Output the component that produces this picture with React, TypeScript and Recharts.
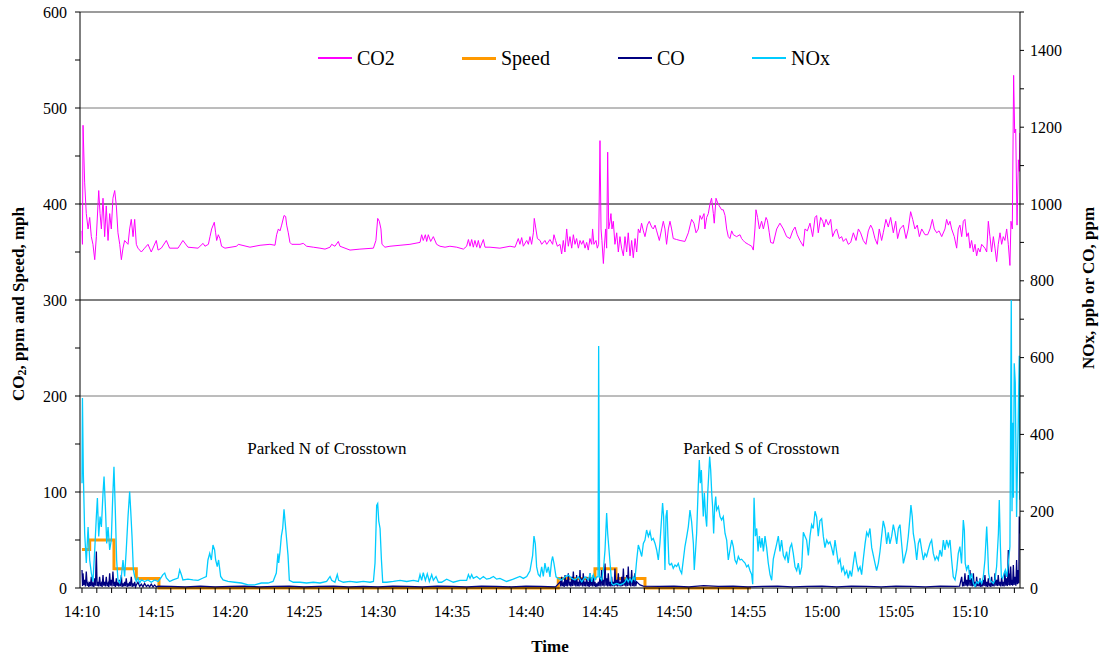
import {
  Label,
  Legend,
  Line,
  LineChart,
  ReferenceDot,
  ReferenceLine,
  XAxis,
  YAxis,
} from "recharts";

// [minutes after 14:10, value]
const CO2: [number, number][] = [
  [0, 372], [0.03, 358], [0.07, 482], [0.18, 422], [0.29, 390], [0.41, 374], [0.52, 386], [0.63, 366],
  [0.74, 358], [0.86, 342], [0.97, 366], [1.13, 414], [1.22, 390], [1.31, 374], [1.42, 406], [1.53, 366],
  [1.64, 398], [1.76, 362], [1.87, 390], [1.98, 374], [2.09, 406], [2.21, 414], [2.32, 398], [2.43, 370],
  [2.55, 358], [2.66, 342], [2.77, 354], [2.88, 362], [3.11, 358], [3.22, 374], [3.33, 384], [3.45, 366],
  [3.56, 384], [3.67, 358], [3.78, 354], [4.01, 350], [4.23, 354], [4.46, 358], [4.68, 350], [5.02, 362],
  [5.14, 352], [5.36, 354], [5.7, 362], [5.92, 354], [6.49, 354], [6.82, 362], [7.16, 355], [7.84, 354],
  [8.18, 359], [8.31, 356], [8.54, 358], [8.65, 366], [8.76, 374], [8.94, 381], [9.03, 370], [9.1, 362],
  [9.21, 368], [9.32, 364], [9.43, 356], [9.66, 354], [10.45, 356], [10.56, 358], [11.35, 355], [12.03, 357],
  [12.7, 358], [13.04, 357], [13.15, 368], [13.27, 374], [13.38, 372], [13.49, 378], [13.65, 388], [13.76, 387],
  [13.83, 378], [13.94, 370], [14.05, 360], [14.17, 358], [14.73, 358], [14.95, 359], [15.18, 356], [15.63, 355],
  [16.08, 354], [16.42, 353], [16.76, 355], [16.87, 358], [17.09, 356], [17.32, 361], [17.43, 356], [18.11, 352],
  [18.78, 353], [19.69, 354], [19.86, 362], [19.98, 385], [20.09, 382], [20.2, 374], [20.27, 358], [20.47, 355],
  [20.81, 356], [21.49, 357], [22.16, 358], [22.84, 360], [22.95, 368], [23.06, 362], [23.2, 368], [23.29, 361],
  [23.4, 368], [23.56, 361], [23.74, 366], [23.96, 358], [24.19, 356], [24.53, 355], [24.86, 356], [25.32, 355],
  [25.77, 353], [25.99, 356], [26.11, 363], [26.22, 356], [26.33, 363], [26.44, 355], [26.55, 362], [26.67, 355],
  [26.78, 362], [26.89, 354], [27.12, 363], [27.23, 355], [27.57, 355], [28.24, 354], [28.92, 356], [29.26, 355],
  [29.48, 364], [29.59, 358], [29.71, 365], [29.82, 356], [30.05, 362], [30.16, 358], [30.27, 366], [30.38, 358],
  [30.5, 370], [30.56, 385], [30.65, 376], [30.77, 364], [30.95, 362], [31.06, 358], [31.28, 362], [31.4, 358],
  [31.62, 363], [31.8, 358], [31.89, 368], [32.0, 362], [32.12, 356], [32.3, 358], [32.41, 348], [32.52, 362],
  [32.63, 350], [32.75, 374], [32.86, 356], [32.97, 366], [33.09, 354], [33.2, 368], [33.31, 358], [33.42, 364],
  [33.54, 354], [33.65, 362], [33.76, 358], [33.87, 362], [33.99, 354], [34.1, 360], [34.21, 352], [34.32, 364],
  [34.44, 358], [34.5, 374], [34.59, 358], [34.73, 362], [34.82, 354], [34.91, 358], [35.0, 466], [35.07, 374],
  [35.13, 362], [35.23, 338], [35.29, 354], [35.38, 374], [35.45, 354], [35.52, 454], [35.59, 374], [35.68, 382],
  [35.74, 390], [35.81, 374], [35.9, 382], [36.01, 358], [36.13, 370], [36.24, 350], [36.35, 366], [36.46, 354],
  [36.58, 346], [36.69, 366], [36.8, 350], [36.91, 370], [37.03, 346], [37.14, 362], [37.25, 344], [37.37, 364],
  [37.48, 350], [37.59, 374], [37.7, 370], [37.81, 380], [37.93, 372], [38.04, 366], [38.2, 378], [38.33, 382],
  [38.49, 376], [38.6, 374], [38.72, 378], [38.83, 372], [39.01, 362], [39.17, 374], [39.28, 382], [39.39, 374],
  [39.5, 358], [39.62, 374], [39.73, 382], [39.84, 374], [39.95, 364], [40.18, 363], [40.41, 362], [40.74, 361],
  [40.97, 370], [41.19, 384], [41.35, 380], [41.49, 370], [41.64, 374], [41.76, 388], [41.87, 384], [42.03, 390],
  [42.09, 374], [42.21, 386], [42.32, 390], [42.43, 400], [42.54, 406], [42.66, 390], [42.72, 380], [42.84, 406],
  [42.93, 402], [43.06, 398], [43.22, 394], [43.33, 394], [43.45, 388], [43.56, 374], [43.67, 366], [43.78, 364],
  [43.9, 372], [44.01, 368], [44.23, 366], [44.46, 368], [44.57, 364], [44.68, 362], [44.8, 360], [45.02, 358],
  [45.25, 356], [45.36, 352], [45.47, 374], [45.54, 394], [45.65, 386], [45.77, 374], [45.92, 382], [46.04, 374],
  [46.22, 386], [46.31, 383], [46.44, 370], [46.53, 360], [46.71, 359], [46.94, 374], [47.16, 380], [47.39, 374],
  [47.61, 366], [47.84, 364], [48.02, 372], [48.18, 376], [48.33, 368], [48.51, 362], [48.74, 356], [48.85, 374],
  [49.01, 372], [49.19, 380], [49.37, 366], [49.53, 386], [49.64, 388], [49.75, 370], [49.91, 386], [50.05, 382],
  [50.14, 376], [50.27, 384], [50.43, 378], [50.59, 384], [50.72, 366], [50.88, 372], [50.99, 374], [51.17, 364],
  [51.33, 366], [51.44, 361], [51.62, 364], [51.78, 358], [51.94, 360], [52.12, 370], [52.3, 362], [52.46, 374],
  [52.61, 370], [52.79, 362], [52.97, 358], [53.13, 372], [53.29, 378], [53.42, 374], [53.58, 364], [53.74, 358],
  [53.87, 374], [54.03, 362], [54.14, 370], [54.32, 384], [54.48, 376], [54.64, 386], [54.82, 370], [54.98, 382],
  [55.11, 364], [55.27, 374], [55.5, 378], [55.68, 364], [55.83, 374], [55.99, 392], [56.13, 384], [56.28, 374],
  [56.44, 378], [56.58, 366], [56.74, 374], [56.96, 368], [57.14, 368], [57.3, 374], [57.46, 384], [57.59, 374],
  [57.75, 370], [57.91, 372], [58.09, 366], [58.31, 374], [58.42, 384], [58.54, 378], [58.65, 382], [58.76, 374],
  [58.94, 366], [59.1, 354], [59.21, 374], [59.32, 378], [59.44, 366], [59.55, 382], [59.66, 384], [59.78, 366],
  [59.89, 370], [60.0, 354], [60.11, 362], [60.23, 350], [60.34, 358], [60.45, 346], [60.56, 354], [60.68, 350],
  [60.79, 358], [61.01, 354], [61.13, 350], [61.24, 382], [61.35, 366], [61.46, 350], [61.58, 366], [61.69, 354],
  [61.8, 340], [61.91, 358], [62.03, 370], [62.14, 358], [62.25, 366], [62.36, 362], [62.48, 374], [62.59, 358],
  [62.7, 336], [62.77, 382], [62.86, 374], [62.95, 534], [63.02, 474], [63.09, 478], [63.18, 378], [63.27, 446],
  [63.33, 434], [63.37, 474],
];

const SPEED: [number, number][] = [
  [0, 40], [0.52, 50], [2.16, 20], [3.67, 10], [5.2, 0], [32.18, 10], [34.66, 20], [36.08, 10], [38.04, 0], [45.2, 0],
];

const CO: [number, number][] = [
  [0, 47], [0.04, 5], [0.07, 38], [0.12, 8], [0.18, 21], [0.23, 4], [0.29, 43], [0.35, 6], [0.41, 12], [0.46, 3],
  [0.52, 16], [0.57, 5], [0.63, 29], [0.68, 4], [0.74, 12], [0.8, 3], [0.86, 25], [0.91, 6], [0.97, 95], [1.02, 5],
  [1.08, 16], [1.13, 4], [1.19, 29], [1.25, 5], [1.31, 12], [1.36, 3], [1.42, 34], [1.47, 6], [1.53, 16], [1.58, 4],
  [1.64, 29], [1.7, 5], [1.76, 12], [1.81, 3], [1.87, 38], [1.92, 6], [1.98, 21], [2.03, 4], [2.09, 43], [2.15, 5],
  [2.21, 16], [2.26, 3], [2.32, 25], [2.37, 6], [2.43, 12], [2.49, 4], [2.55, 21], [2.6, 5], [2.66, 34], [2.71, 3],
  [2.77, 12], [2.82, 4], [2.88, 16], [2.93, 5], [2.99, 25], [3.05, 3], [3.11, 12], [3.16, 4], [3.22, 16], [3.27, 5],
  [3.33, 29], [3.39, 3], [3.45, 12], [3.5, 4], [3.56, 16], [3.62, 3], [3.67, 8], [3.78, 15], [3.9, 4], [4.01, 10],
  [4.12, 3], [4.23, 12], [4.35, 4], [4.46, 8], [4.57, 3], [4.68, 10], [4.8, 3], [4.91, 8], [5.02, 3], [5.14, 5],
  [6, 4], [7, 3], [8, 5], [9, 3], [10, 4], [11, 5], [12, 3], [13, 4], [14, 5], [15, 3], [16, 4], [17, 5], [18, 3],
  [19, 4], [20, 3], [21, 5], [22, 4], [23, 3], [24, 5], [25, 4], [26, 3], [27, 5], [28, 4], [29, 3], [30, 5], [31, 4],
  [32, 3], [32.3, 16], [32.35, 4], [32.41, 29], [32.46, 5], [32.52, 12], [32.58, 3], [32.64, 34], [32.69, 5],
  [32.75, 21], [32.8, 4], [32.86, 38], [32.92, 6], [32.97, 16], [33.03, 4], [33.09, 29], [33.14, 5], [33.2, 43],
  [33.25, 6], [33.31, 21], [33.37, 4], [33.42, 34], [33.48, 5], [33.54, 16], [33.59, 4], [33.65, 47], [33.7, 6],
  [33.76, 25], [33.82, 4], [33.87, 38], [33.93, 5], [33.99, 16], [34.04, 4], [34.1, 29], [34.16, 5], [34.21, 16],
  [34.27, 3], [34.33, 38], [34.38, 5], [34.44, 21], [34.5, 4], [34.55, 34], [34.61, 5], [34.66, 16], [34.72, 3],
  [34.78, 12], [34.83, 4], [34.89, 16], [34.94, 5], [35.0, 29], [35.06, 4], [35.11, 47], [35.17, 6], [35.23, 21],
  [35.28, 4], [35.34, 64], [35.4, 6], [35.45, 25], [35.51, 4], [35.56, 38], [35.62, 5], [35.68, 16], [35.73, 4],
  [35.79, 29], [35.84, 5], [35.9, 16], [35.96, 4], [36.01, 51], [36.07, 6], [36.13, 21], [36.18, 4], [36.24, 38],
  [36.3, 5], [36.35, 16], [36.41, 4], [36.46, 29], [36.52, 5], [36.58, 51], [36.63, 6], [36.69, 21], [36.75, 4],
  [36.8, 34], [36.86, 5], [36.91, 56], [36.97, 6], [37.03, 25], [37.08, 4], [37.14, 47], [37.2, 5], [37.25, 21],
  [37.31, 4], [37.36, 38], [37.42, 5], [37.48, 16], [37.59, 12], [37.7, 8], [37.93, 5], [39, 4], [40, 5], [41, 3],
  [42, 6], [43, 4], [44, 5], [45, 3], [46, 4], [47, 5], [48, 3], [49, 4], [50, 5], [51, 3], [52, 5], [53, 4], [54, 3],
  [55, 5], [56, 4], [57, 3], [58, 5], [59, 4], [59.3, 5], [59.44, 29], [59.5, 4], [59.55, 16], [59.6, 5], [59.66, 38],
  [59.72, 6], [59.77, 21], [59.83, 4], [59.89, 34], [59.94, 6], [60.0, 47], [60.06, 5], [60.11, 25], [60.17, 4],
  [60.23, 38], [60.28, 5], [60.34, 16], [60.4, 3], [60.45, 29], [60.51, 5], [60.56, 16], [60.62, 4], [60.68, 25],
  [60.73, 3], [60.79, 12], [60.84, 4], [60.9, 21], [60.96, 5], [61.01, 34], [61.07, 4], [61.13, 16], [61.18, 3],
  [61.24, 25], [61.3, 4], [61.35, 12], [61.41, 3], [61.46, 29], [61.52, 5], [61.58, 16], [61.63, 4], [61.69, 38],
  [61.75, 6], [61.8, 21], [61.86, 5], [61.91, 34], [61.97, 6], [62.03, 16], [62.08, 4], [62.14, 29], [62.2, 5],
  [62.25, 16], [62.31, 4], [62.36, 43], [62.42, 6], [62.48, 25], [62.53, 5], [62.59, 99], [62.63, 8], [62.66, 38],
  [62.7, 6], [62.75, 56], [62.8, 8], [62.84, 21], [62.88, 6], [62.93, 60], [62.98, 8], [63.04, 29], [63.1, 6],
  [63.15, 73], [63.2, 10], [63.26, 47], [63.3, 12], [63.33, 186], [63.37, 142],
];

const NOX: [number, number][] = [
  [0, 273], [0.03, 495], [0.09, 300], [0.18, 143], [0.29, 65], [0.41, 159], [0.52, 73], [0.63, 39], [0.74, 17],
  [0.86, 99], [0.97, 186], [1.04, 234], [1.13, 134], [1.22, 186], [1.31, 159], [1.42, 247], [1.49, 290], [1.58, 212],
  [1.67, 116], [1.76, 159], [1.87, 99], [1.98, 125], [2.07, 229], [2.16, 316], [2.25, 203], [2.34, 73], [2.43, 21],
  [2.55, 13], [2.66, 30], [2.77, 73], [2.88, 30], [2.99, 99], [3.11, 186], [3.22, 251], [3.29, 203], [3.38, 134],
  [3.47, 47], [3.56, 30], [3.67, 17], [3.78, 26], [3.9, 13], [4.01, 21], [4.23, 17], [4.46, 21], [4.68, 15],
  [4.91, 21], [5.14, 17], [5.32, 26], [5.47, 35], [5.59, 39], [5.7, 26], [5.92, 17], [6.15, 21], [6.49, 26],
  [6.6, 47], [6.71, 35], [6.82, 21], [7.16, 23], [7.5, 21], [7.84, 20], [8.18, 26], [8.4, 30], [8.51, 73], [8.63, 90],
  [8.74, 73], [8.85, 112], [8.96, 99], [9.03, 73], [9.14, 56], [9.23, 73], [9.37, 30], [9.53, 21], [9.86, 17],
  [10.32, 15], [10.77, 13], [11.22, 8], [11.67, 8], [12.12, 13], [12.57, 13], [12.91, 17], [13.13, 39], [13.24, 90],
  [13.29, 65], [13.38, 95], [13.47, 135], [13.56, 155], [13.65, 205], [13.74, 165], [13.83, 125], [13.92, 85],
  [14.01, 20], [14.28, 15], [14.73, 15], [15.18, 13], [15.63, 15], [16.08, 13], [16.53, 17], [16.76, 30], [16.87, 20],
  [17.09, 15], [17.25, 35], [17.34, 20], [17.66, 15], [18.11, 17], [18.56, 15], [19.01, 17], [19.46, 15], [19.69, 17],
  [19.8, 65], [19.91, 215], [19.98, 220], [20.05, 175], [20.14, 155], [20.23, 75], [20.32, 15], [20.59, 15],
  [21.04, 17], [21.49, 20], [21.94, 17], [22.39, 20], [22.73, 17], [22.84, 35], [22.95, 20], [23.06, 40], [23.2, 20],
  [23.33, 37], [23.47, 17], [23.63, 35], [23.74, 20], [23.92, 30], [24.08, 15], [24.3, 15], [24.64, 23], [25.09, 15],
  [25.54, 20], [25.99, 20], [26.11, 35], [26.22, 25], [26.33, 35], [26.44, 25], [26.67, 30], [26.89, 23], [27.12, 30],
  [27.34, 23], [27.57, 25], [27.8, 30], [28.02, 23], [28.24, 25], [28.69, 17], [29.14, 23], [29.59, 30], [29.82, 25],
  [30.05, 30], [30.27, 45], [30.45, 85], [30.54, 135], [30.63, 115], [30.72, 55], [30.83, 35], [30.95, 30],
  [31.06, 55], [31.17, 30], [31.28, 65], [31.4, 40], [31.51, 55], [31.62, 29], [31.73, 70], [31.8, 82], [31.89, 64],
  [32.03, 29], [32.18, 25], [32.41, 21], [32.64, 29], [32.86, 34], [33.09, 25], [33.31, 21], [33.54, 29], [33.77, 16],
  [33.99, 29], [34.22, 21], [34.33, 38], [34.44, 16], [34.55, 34], [34.66, 21], [34.78, 29], [34.87, 29],
  [34.91, 630], [34.97, 29], [35.11, 21], [35.23, 47], [35.34, 99], [35.45, 195], [35.52, 142], [35.61, 99],
  [35.7, 56], [35.79, 12], [35.9, 8], [36.13, 12], [36.35, 8], [36.58, 12], [36.69, 16], [36.8, 25], [36.91, 16],
  [37.03, 25], [37.14, 16], [37.25, 29], [37.36, 21], [37.48, 73], [37.59, 112], [37.7, 99], [37.82, 82], [37.93, 116],
  [38.04, 125], [38.15, 151], [38.27, 134], [38.38, 147], [38.49, 125], [38.6, 129], [38.72, 116], [38.83, 99],
  [38.94, 73], [39.05, 116], [39.17, 186], [39.23, 221], [39.3, 186], [39.39, 47], [39.46, 186], [39.53, 203],
  [39.59, 134], [39.66, 64], [39.73, 60], [39.84, 64], [39.95, 51], [40.07, 60], [40.18, 56], [40.29, 64], [40.41, 47],
  [40.52, 38], [40.63, 73], [40.74, 108], [40.86, 134], [40.97, 160], [41.08, 203], [41.19, 173], [41.31, 116],
  [41.37, 47], [41.46, 99], [41.53, 142], [41.64, 264], [41.71, 333], [41.78, 273], [41.85, 307], [41.91, 247],
  [41.98, 186], [42.05, 247], [42.14, 186], [42.21, 160], [42.28, 247], [42.34, 290], [42.41, 342], [42.48, 307],
  [42.55, 247], [42.61, 212], [42.68, 142], [42.75, 212], [42.82, 238], [42.88, 203], [43.0, 212], [43.11, 186],
  [43.22, 177], [43.33, 186], [43.45, 142], [43.56, 125], [43.67, 73], [43.78, 99], [43.9, 125], [44.01, 108],
  [44.12, 73], [44.23, 64], [44.35, 82], [44.46, 73], [44.57, 75], [44.68, 70], [44.8, 65], [44.91, 55], [45.02, 60],
  [45.14, 45], [45.25, 35], [45.32, 10], [45.41, 235], [45.5, 135], [45.59, 155], [45.68, 95], [45.77, 135],
  [45.86, 105], [45.95, 130], [46.04, 95], [46.15, 135], [46.26, 105], [46.37, 65], [46.49, 35], [46.6, 20],
  [46.71, 75], [46.82, 95], [46.94, 115], [47.05, 135], [47.16, 95], [47.27, 125], [47.39, 85], [47.5, 75],
  [47.61, 95], [47.72, 65], [47.84, 105], [47.95, 115], [48.06, 90], [48.18, 55], [48.29, 45], [48.4, 65],
  [48.51, 35], [48.63, 55], [48.74, 145], [48.85, 135], [48.96, 125], [49.08, 85], [49.19, 135], [49.3, 165],
  [49.41, 155], [49.53, 200], [49.64, 185], [49.75, 135], [49.86, 175], [49.98, 180], [50.09, 135], [50.2, 105],
  [50.32, 125], [50.43, 115], [50.54, 120], [50.65, 105], [50.77, 85], [50.88, 125], [50.99, 95], [51.1, 65],
  [51.22, 75], [51.33, 45], [51.44, 55], [51.55, 35], [51.67, 45], [51.78, 25], [51.89, 45], [52.0, 30], [52.12, 65],
  [52.23, 95], [52.34, 65], [52.45, 45], [52.57, 55], [52.68, 35], [52.79, 75], [52.91, 115], [53.02, 145],
  [53.13, 135], [53.24, 155], [53.36, 105], [53.47, 85], [53.58, 65], [53.69, 45], [53.81, 65], [53.92, 95],
  [54.03, 135], [54.14, 175], [54.26, 155], [54.37, 115], [54.48, 145], [54.59, 115], [54.71, 135], [54.82, 165],
  [54.93, 145], [55.05, 115], [55.16, 155], [55.27, 165], [55.38, 116], [55.5, 64], [55.61, 82], [55.72, 99],
  [55.83, 134], [55.95, 186], [56.01, 216], [56.1, 186], [56.17, 142], [56.28, 116], [56.4, 73], [56.51, 116],
  [56.62, 129], [56.74, 99], [56.85, 73], [56.96, 90], [57.07, 82], [57.18, 99], [57.3, 116], [57.41, 125],
  [57.52, 90], [57.64, 73], [57.75, 82], [57.86, 73], [57.97, 99], [58.09, 82], [58.2, 125], [58.31, 99],
  [58.42, 125], [58.54, 108], [58.65, 125], [58.76, 73], [58.87, 29], [58.99, 21], [59.1, 47], [59.21, 90],
  [59.32, 108], [59.43, 64], [59.55, 177], [59.62, 151], [59.68, 64], [59.77, 47], [59.89, 60], [60.0, 21],
  [60.11, 38], [60.23, 12], [60.34, 4], [60.45, 16], [60.56, 12], [60.68, 21], [60.79, 12], [60.9, 29], [61.01, 73],
  [61.13, 160], [61.19, 108], [61.26, 38], [61.35, 21], [61.46, 16], [61.58, 12], [61.69, 21], [61.8, 56],
  [61.92, 142], [61.98, 229], [62.05, 116], [62.12, 29], [62.21, 25], [62.3, 38], [62.39, 47], [62.48, 29],
  [62.59, 64], [62.7, 108], [62.79, 750], [62.84, 200], [62.89, 430], [62.94, 235], [62.99, 585], [63.06, 535],
  [63.15, 185], [63.26, 435], [63.33, 605], [63.37, 230],
];

const LEFT_TICKS = [0, 50, 100, 150, 200, 250, 300, 350, 400, 450, 500, 550, 600];
const RIGHT_TICKS = [0, 100, 200, 300, 400, 500, 600, 700, 800, 900, 1000, 1100, 1200, 1300, 1400, 1500];
const MINUTE_TICKS = Array.from({ length: 64 }, (_, i) => i);
const GRID_LINES = [100, 200, 300, 400, 500, 600];
const NOTES = [
  { t: 16.55, y: 146, text: "Parked N of Crosstown" },
  { t: 45.9, y: 146, text: "Parked S of Crosstown" },
];

const FONT = "Liberation Serif, Times New Roman, serif";

const toRows = (pts: [number, number][]) => pts.map(([t, v]) => ({ t, v }));

function fmtTime(m: number) {
  if (m % 5 !== 0) return "";
  const total = 14 * 60 + 10 + m;
  return `${Math.floor(total / 60)}:${String(total % 60).padStart(2, "0")}`;
}

const LEGEND = [
  { name: "CO2", color: "#FF00FF", width: 1.2, x: 318 },
  { name: "Speed", color: "#FF9900", width: 3, x: 462 },
  { name: "CO", color: "#000080", width: 1.5, x: 618 },
  { name: "NOx", color: "#00CCFF", width: 1.5, x: 752 },
];

function LegendBox() {
  return (
    <div style={{ position: "relative", width: 1099, height: 24, fontFamily: FONT, fontSize: 20 }}>
      {LEGEND.map((it) => (
        <div key={it.name} style={{ position: "absolute", left: it.x, top: 0, display: "flex", alignItems: "center", height: 24 }}>
          <span style={{ display: "inline-block", width: 34, height: it.width, background: it.color }} />
          <span style={{ marginLeft: 5, color: "#000", lineHeight: "24px" }}>{it.name}</span>
        </div>
      ))}
    </div>
  );
}

function LeftTitle(props: any) {
  const vb = props.viewBox ?? { x: 0, y: 12, width: 80, height: 576 };
  const cx = vb.x + 18;
  const cy = vb.y + vb.height / 2 + 4;
  return (
    <text x={cx} y={cy} transform={`rotate(-90 ${cx} ${cy})`} textAnchor="middle" dominantBaseline="central"
      fontFamily={FONT} fontWeight="bold" fontSize={17} fill="#000">
      CO<tspan fontSize={12} dy={4}>2</tspan><tspan dy={-4}>, ppm and Speed, mph</tspan>
    </text>
  );
}

function RightTitle(props: any) {
  const vb = props.viewBox ?? { x: 1020, y: 12, width: 79, height: 576 };
  const cx = vb.x + 68;
  const cy = vb.y + vb.height / 2 - 12;
  return (
    <text x={cx} y={cy} transform={`rotate(-90 ${cx} ${cy})`} textAnchor="middle" dominantBaseline="central"
      fontFamily={FONT} fontWeight="bold" fontSize={17} fill="#000">
      NOx, ppb or CO, ppm
    </text>
  );
}

export default function App() {
  const tick = { fontSize: 16, fill: "#000", fontFamily: FONT };
  return (
    <div style={{ position: "absolute", left: 0, top: 0, width: 1099, height: 660, background: "#fff", fontFamily: FONT }}>
      <LineChart width={1099} height={660} margin={{ top: 12, right: 0, bottom: 0, left: 0 }}>
        <XAxis
          dataKey="t"
          type="number"
          domain={[-0.135, 63.38]}
          allowDataOverflow
          ticks={MINUTE_TICKS}
          tickFormatter={fmtTime}
          interval={0}
          height={72}
          tick={tick}
          tickSize={5}
          tickMargin={13}
          stroke="#000"
        >
          <Label value="Time" position="insideBottom" offset={8} fontFamily={FONT} fontWeight="bold" fontSize={17} fill="#000" />
        </XAxis>
        <YAxis
          yAxisId="left"
          orientation="left"
          width={80}
          domain={[0, 600]}
          ticks={LEFT_TICKS}
          interval={0}
          tickFormatter={(v: number) => (v % 100 === 0 ? String(v) : "")}
          tick={tick}
          tickSize={5}
          tickMargin={8}
          stroke="#000"
        >
          <Label content={<LeftTitle />} />
        </YAxis>
        <YAxis
          yAxisId="right"
          orientation="right"
          width={79}
          domain={[0, 1500]}
          ticks={RIGHT_TICKS}
          interval={0}
          tickFormatter={(v: number) => (v % 200 === 0 && v < 1500 ? String(v) : "")}
          tick={tick}
          tickSize={4}
          tickMargin={6}
          stroke="#000"
        >
          <Label content={<RightTitle />} />
        </YAxis>
        {GRID_LINES.map((g) => (
          <ReferenceLine key={g} yAxisId="left" y={g} stroke={g === 300 || g === 400 ? "#000" : "#7a7a7a"} strokeWidth={g === 600 ? 1.5 : 1} />
        ))}
        <Legend verticalAlign="middle" align="center" layout="horizontal" wrapperStyle={{ top: 46, left: 0, width: 1099 }} content={() => <LegendBox />} />
        <Line yAxisId="left" data={toRows(CO2)} dataKey="v" name="CO2" stroke="#FF00FF" strokeWidth={1} dot={false} activeDot={false} isAnimationActive={false} />
        <Line yAxisId="left" data={toRows(SPEED)} dataKey="v" name="Speed" type="stepAfter" stroke="#FF9900" strokeWidth={3} dot={false} activeDot={false} isAnimationActive={false} />
        <Line yAxisId="right" data={toRows(CO)} dataKey="v" name="CO" stroke="#000080" strokeWidth={1.3} dot={false} activeDot={false} isAnimationActive={false} />
        <Line yAxisId="right" data={toRows(NOX)} dataKey="v" name="NOx" stroke="#00CCFF" strokeWidth={1.3} dot={false} activeDot={false} isAnimationActive={false} />
        {NOTES.map((n) => (
          <ReferenceDot key={n.text} yAxisId="left" x={n.t} y={n.y} r={0} fill="none" stroke="none"
            label={{ value: n.text, position: "center", fontSize: 17, fill: "#000", fontFamily: FONT }} />
        ))}
      </LineChart>
    </div>
  );
}
